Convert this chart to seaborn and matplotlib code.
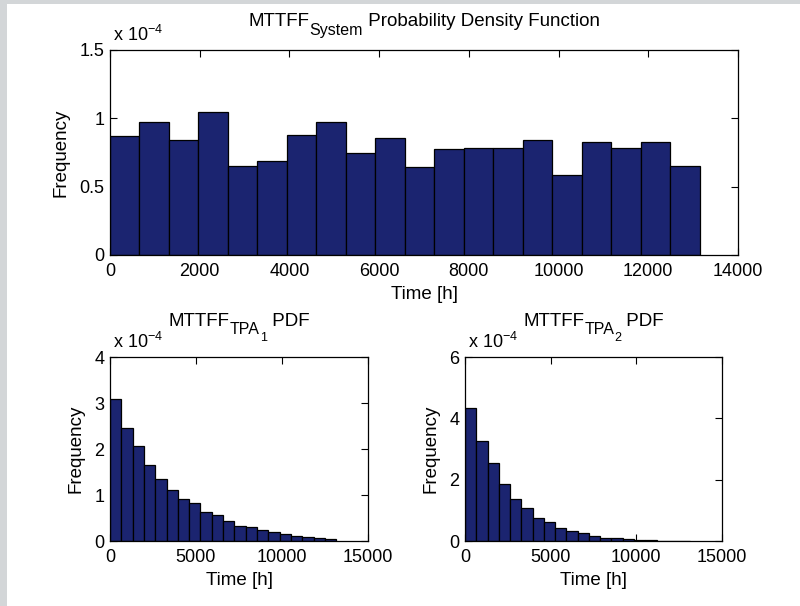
import numpy as np
import pandas as pd
import matplotlib
matplotlib.use("Agg")
import matplotlib.pyplot as plt
from matplotlib.patches import Rectangle
from matplotlib.ticker import FuncFormatter
from matplotlib.transforms import IdentityTransform
import seaborn as sns

# ---------------- data (bin heights, in units of 1e-4) -------------
t_max = 13150.0          # upper end of the simulated times [h]
n_bins = 20
system_pdf = [0.874, 0.973, 0.845, 1.049, 0.653, 0.687, 0.876, 0.973, 0.745, 0.859,
              0.643, 0.774, 0.784, 0.784, 0.845, 0.583, 0.830, 0.784, 0.830, 0.653]
tpa1_pdf = [3.08, 2.46, 2.07, 1.66, 1.34, 1.11, 0.905, 0.832, 0.628, 0.562,
            0.438, 0.336, 0.30, 0.24, 0.19, 0.146, 0.11, 0.08, 0.073, 0.044]
tpa2_pdf = [4.33, 3.27, 2.55, 1.86, 1.38, 1.06, 0.745, 0.61, 0.44, 0.32,
            0.25, 0.15, 0.10, 0.10, 0.07, 0.04, 0.03, 0.005, 0.004, 0.004]
scale = 1e-4

top_xticks = [0, 2000, 4000, 6000, 8000, 10000, 12000, 14000]
bot_xticks = [0, 5000, 10000, 15000]
top_yticks = [0, 0.5, 1, 1.5]
tpa1_yticks = [0, 1, 2, 3, 4]
tpa2_yticks = [0, 2, 4, 6]

# title pieces: (text, level) with level 0 = normal, 1 = subscript, 2 = sub-subscript
title_sys = [("MTTFF", 0), ("System", 1), (" Probability Density Function", 0)]
title_tpa1 = [("MTTFF", 0), ("TPA", 1), ("1", 2), (" PDF", 0)]
title_tpa2 = [("MTTFF", 0), ("TPA", 1), ("2", 2), (" PDF", 0)]
xlabel = "Time [h]"
ylabel = "Frequency"
exp_label = "x 10$^{\\mathrm{\u22124}}$"

# ---------------- style -------------
sns.set_style("ticks")
FONT = "Liberation Sans"
plt.rcParams["font.family"] = [FONT, "DejaVu Sans"]
plt.rcParams["mathtext.fontset"] = "custom"
plt.rcParams["mathtext.rm"] = FONT
plt.rcParams["mathtext.it"] = FONT + ":italic"
plt.rcParams["mathtext.bf"] = FONT + ":bold"
plt.rcParams["text.color"] = "black"
plt.rcParams["axes.labelcolor"] = "black"
plt.rcParams["xtick.color"] = "black"
plt.rcParams["ytick.color"] = "black"
TICK_FS = 13
LABEL_FS = 13.5
TITLE_FS = 13.5
LEVEL_FS = {0: TITLE_FS, 1: 11.5, 2: 9.0}
BAR = "#1b2470"

fig = plt.figure(figsize=(8.0, 6.06), dpi=100)
fig.patch.set_facecolor("white")
W, H = 800.0, 606.0
# grey frame of the screenshot
fig.patches.append(Rectangle((0, 0), 7 / W, 1, transform=fig.transFigure,
                             facecolor="#d3d6d8", edgecolor="none", zorder=-10))
fig.patches.append(Rectangle((0, 1 - 4 / H), 1, 4 / H, transform=fig.transFigure,
                             facecolor="#d3d6d8", edgecolor="none", zorder=-10))


def axes_px(x0, y0, x1, y1):
    return fig.add_axes([x0 / W, 1 - y1 / H, (x1 - x0) / W, (y1 - y0) / H])


ax_top = axes_px(110, 50, 738, 255)
ax_bl = axes_px(110, 357, 368, 541)
ax_br = axes_px(465, 357, 722, 541)

edges = np.linspace(0, t_max, n_bins + 1)
centers = (edges[:-1] + edges[1:]) / 2


def draw(ax, vals, xticks, xlim, yticks):
    df = pd.DataFrame({"t": centers, "w": np.asarray(vals) * scale})
    sns.histplot(data=df, x="t", weights="w", bins=n_bins, binrange=(0, t_max),
                 ax=ax, stat="count",
                 color=BAR, edgecolor="black", linewidth=0.9, alpha=1.0)
    ax.set_xlim(*xlim)
    ax.set_ylim(yticks[0] * scale, yticks[-1] * scale)
    ax.set_xticks(xticks)
    ax.set_yticks([v * scale for v in yticks])
    ax.yaxis.set_major_formatter(FuncFormatter(lambda v, p: f"{v / scale:g}"))
    ax.xaxis.set_major_formatter(FuncFormatter(lambda v, p: f"{v:g}"))
    ax.tick_params(direction="in", top=True, right=True, length=5, width=0.8,
                   labelsize=TICK_FS, colors="black", pad=6)
    ax.tick_params(axis="y", pad=4)
    for s in ax.spines.values():
        s.set_visible(True)
        s.set_linewidth(0.9)
        s.set_color("black")
    ax.set_xlabel(xlabel, fontsize=LABEL_FS, labelpad=4, color="black")
    ax.set_ylabel(ylabel, fontsize=LABEL_FS, labelpad=7, color="black")
    ax.annotate(exp_label, xy=(0, 1), xycoords="axes fraction",
                xytext=(2, 6.5), textcoords="offset points",
                fontsize=TICK_FS, ha="left", va="baseline", color="black")
    ax.set_facecolor("white")


def compose_title(ax, parts, baseline_px, drops=(0, 8, 15)):
    renderer = fig.canvas.get_renderer()
    texts, widths = [], []
    for s, lvl in parts:
        t = fig.text(0, 0, s, fontsize=LEVEL_FS[lvl], transform=IdentityTransform(),
                     ha="left", va="baseline", color="black")
        texts.append(t)
        widths.append(t.get_window_extent(renderer).width)
    pos = ax.get_position()
    cx = (pos.x0 + pos.x1) / 2 * W
    x = cx - sum(widths) / 2
    for t, w, (s, lvl) in zip(texts, widths, parts):
        t.set_position((x, H - baseline_px - drops[lvl]))
        x += w


draw(ax_top, system_pdf, top_xticks, (0, 14000), top_yticks)
draw(ax_bl, tpa1_pdf, bot_xticks, (0, 15000), tpa1_yticks)
draw(ax_br, tpa2_pdf, bot_xticks, (0, 15000), tpa2_yticks)

compose_title(ax_top, title_sys, 26, drops=(0, 9, 15))
compose_title(ax_bl, title_tpa1, 326)
compose_title(ax_br, title_tpa2, 326)

fig.savefig("out.png", dpi=100, facecolor=fig.get_facecolor())
